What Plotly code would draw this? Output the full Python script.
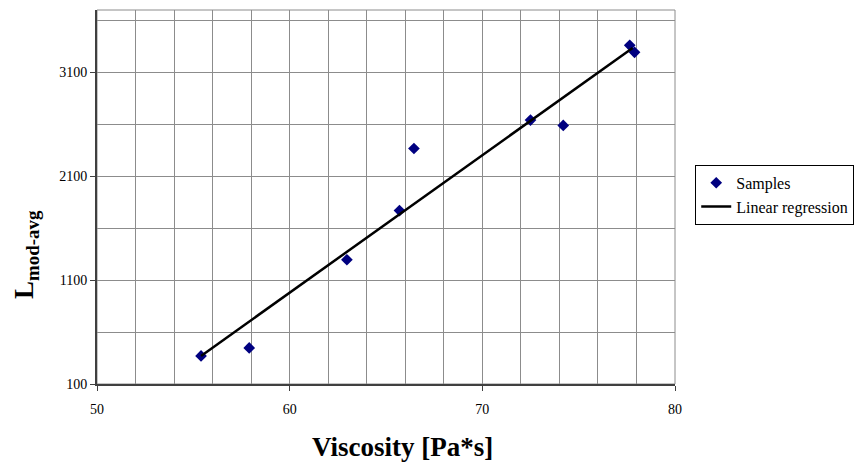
import plotly.graph_objects as go

# Sample data
viscosity = [55.4, 57.9, 62.97, 65.7, 66.45, 72.5, 74.2, 77.65, 77.9]
l_mod_avg = [370, 447, 1296, 1769, 2367, 2640, 2589, 3360, 3293]

# Linear regression line endpoints (as drawn)
reg_x = [55.4, 77.8]
reg_y = [370, 3335]

x_ticks = [50, 60, 70, 80]
y_ticks = [100, 1100, 2100, 3100]

FONT = "Liberation Serif"
GRID = "#8c8c8c"

fig = go.Figure()
fig.add_trace(go.Scatter(
    x=viscosity, y=l_mod_avg, mode="markers", name="Samples",
    marker=dict(symbol="diamond", size=9, color="#000080"),
))
fig.add_trace(go.Scatter(
    x=reg_x, y=reg_y, mode="lines", name="Linear regression",
    line=dict(color="black", width=2.5),
))

fig.update_layout(
    width=856, height=457,
    margin=dict(l=89, r=189, t=2, b=81),
    paper_bgcolor="white", plot_bgcolor="white",
    font=dict(family=FONT, size=14, color="black"),
    showlegend=True,
    legend=dict(
        x=1.035, y=0.586, xanchor="left", yanchor="top",
        bordercolor="black", borderwidth=1, bgcolor="white",
        font=dict(family=FONT, size=16, color="black"),
        tracegroupgap=0,
    ),
    shapes=[dict(type="rect", xref="paper", yref="paper", x0=0, x1=1, y0=0, y1=1,
                 line=dict(color=GRID, width=1), layer="below")],
    annotations=[
        dict(text="<b>Viscosity [Pa*s]</b>", xref="paper", yref="paper",
             x=0.529, y=-0.168, xanchor="center", yanchor="middle", showarrow=False,
             font=dict(family=FONT, size=27, color="black")),
        dict(text="<b>L<sub>mod-avg</sub></b>", xref="paper", yref="paper",
             x=-0.123, y=0.3476, xanchor="center", yanchor="middle", showarrow=False,
             textangle=-90, font=dict(family=FONT, size=27, color="black")),
    ],
)

fig.update_xaxes(
    range=[50, 80], tickvals=x_ticks, ticktext=[str(v) for v in x_ticks],
    showgrid=False,
    minor=dict(dtick=2, tick0=50, showgrid=True, gridcolor=GRID, gridwidth=1),
    showline=True, linecolor="#404040", linewidth=2,
    ticks="outside", ticklen=5, tickcolor="#404040", tickwidth=1,
    ticklabelstandoff=6,
    tickfont=dict(family=FONT, size=14, color="black"),
    zeroline=False,
)
fig.update_yaxes(
    range=[100, 3700], tickvals=y_ticks, ticktext=[str(v) for v in y_ticks],
    showgrid=False,
    minor=dict(dtick=500, tick0=100, showgrid=True, gridcolor=GRID, gridwidth=1),
    showline=True, linecolor="#404040", linewidth=2,
    ticks="outside", ticklen=5, tickcolor="#404040", tickwidth=1,
    tickfont=dict(family=FONT, size=14, color="black"),
    zeroline=False,
)

fig.write_html("out.html")
